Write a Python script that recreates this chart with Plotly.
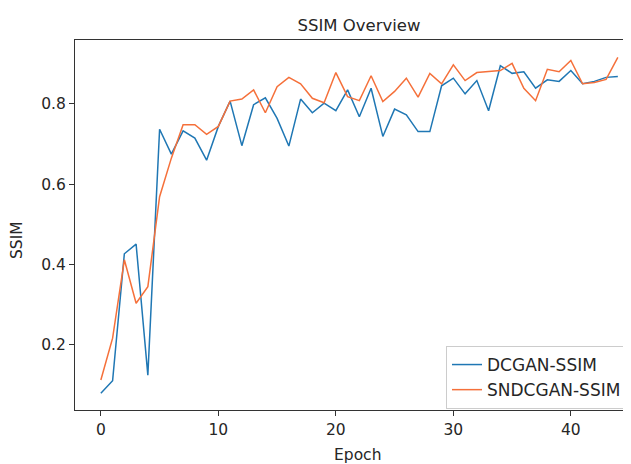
import plotly.graph_objects as go

epochs = list(range(45))
dcgan_ssim = [0.080, 0.111, 0.427, 0.451, 0.125, 0.737, 0.675, 0.733, 0.715, 0.660,
              0.744, 0.807, 0.696, 0.798, 0.815, 0.764, 0.695, 0.812, 0.778, 0.802,
              0.783, 0.835, 0.768, 0.839, 0.719, 0.787, 0.773, 0.731, 0.731, 0.845,
              0.864, 0.825, 0.858, 0.783, 0.895, 0.876, 0.880, 0.839, 0.860, 0.856,
              0.883, 0.850, 0.856, 0.866, 0.868]
sndcgan_ssim = [0.113, 0.217, 0.412, 0.304, 0.345, 0.569, 0.665, 0.748, 0.748, 0.724,
                0.744, 0.807, 0.812, 0.835, 0.778, 0.843, 0.866, 0.850, 0.814, 0.803,
                0.878, 0.818, 0.808, 0.870, 0.806, 0.831, 0.864, 0.817, 0.876, 0.850,
                0.897, 0.858, 0.878, 0.880, 0.883, 0.901, 0.839, 0.808, 0.886, 0.880,
                0.908, 0.850, 0.853, 0.861, 0.916]
x_ticks = [0, 10, 20, 30, 40]
y_ticks = [0.2, 0.4, 0.6, 0.8]

FONT = "DejaVu Sans"
TXT = "#262626"

# page body has an 8px margin: figure is drawn 8px right/down in the window
W, H = 623, 456
L, T, B = 67, 32, 54
PW, PH = W - L, H - T - B  # 556 x 370

fig = go.Figure()
fig.add_trace(go.Scatter(x=epochs, y=dcgan_ssim, mode="lines", name="DCGAN-SSIM",
                         line=dict(color="#1f77b4", width=1.5)))
fig.add_trace(go.Scatter(x=epochs, y=sndcgan_ssim, mode="lines", name="SNDCGAN-SSIM",
                         line=dict(color="#f5703a", width=1.5)))

fig.update_layout(
    width=W, height=H,
    margin=dict(l=L, r=0, t=T, b=B, pad=0),
    paper_bgcolor="white", plot_bgcolor="white",
    font=dict(family=FONT, size=15, color=TXT),
    title=dict(text="SSIM Overview", x=(359 - 75) / PW, xref="paper", xanchor="center",
               y=1 - 17 / H, yref="container", yanchor="middle",
               font=dict(family=FONT, size=16.5, color=TXT)),
    xaxis=dict(range=[-2.2, 45.12], tickvals=x_ticks, showgrid=False, zeroline=False,
               showline=True, linecolor="#333", linewidth=1, mirror=True,
               ticks="outside", ticklen=5, tickcolor="#333", automargin=False,
               tickfont=dict(size=15.5)),
    yaxis=dict(range=[0.0382, 0.959], tickvals=y_ticks, tickformat=".1f",
               showgrid=False, zeroline=False, automargin=False,
               showline=True, linecolor="#333", linewidth=1,
               ticks="outside", ticklen=5, tickcolor="#333",
               tickfont=dict(size=15.5)),
    legend=dict(x=(446 - 75) / PW, y=(410 - 346) / PH, xanchor="left", yanchor="top",
                bgcolor="rgba(255,255,255,0.8)", bordercolor="#cccccc", borderwidth=1,
                font=dict(size=17, color=TXT), tracegroupgap=0),
    showlegend=True,
    annotations=[
        dict(text="Epoch", xref="paper", yref="paper", x=(357 - 75) / PW,
             y=(410 - 455) / PH, xanchor="center", yanchor="middle", showarrow=False,
             font=dict(size=15.5, color=TXT)),
        dict(text="SSIM", xref="paper", yref="paper", x=(17 - 75) / PW,
             y=(410 - 240) / PH, xanchor="center", yanchor="middle", showarrow=False,
             textangle=-90, font=dict(size=15.5, color=TXT)),
    ],
)

fig.write_html("out.html")
